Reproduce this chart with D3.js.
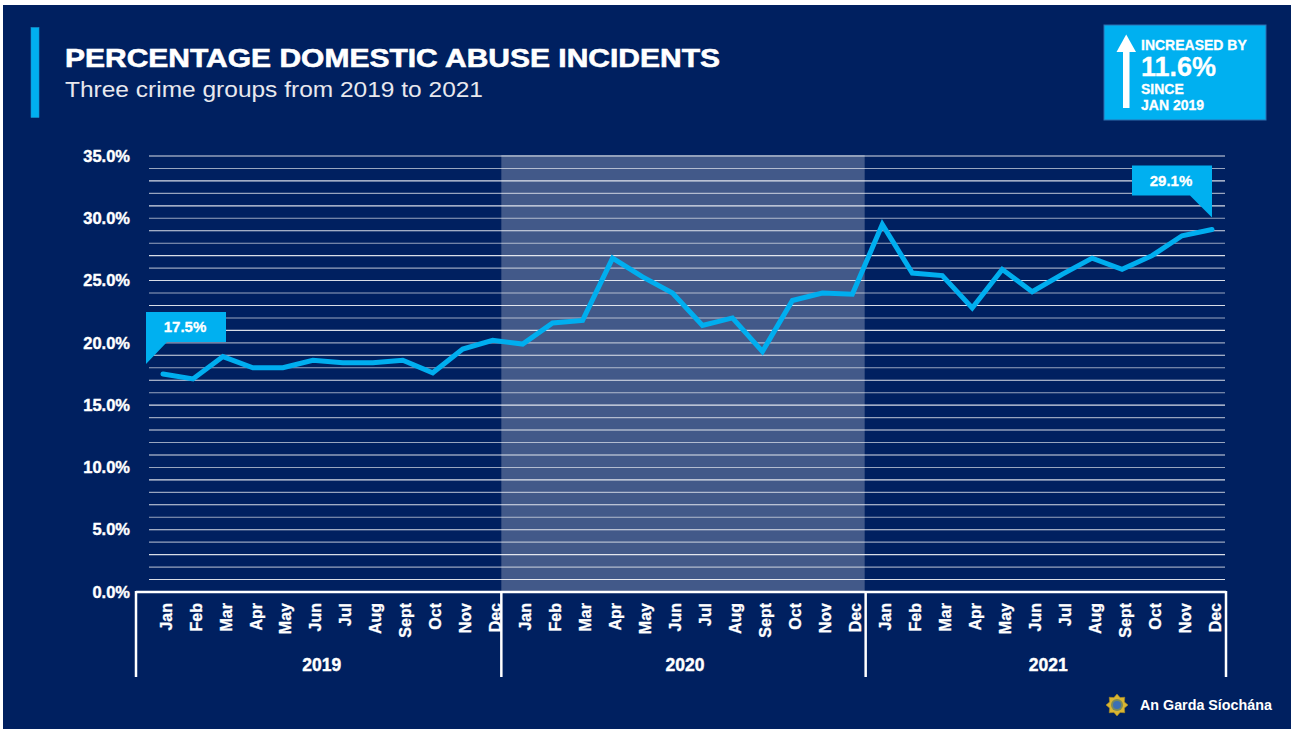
<!DOCTYPE html>
<html>
<head>
<meta charset="utf-8">
<script src="https://cdn.jsdelivr.net/npm/d3@7/dist/d3.min.js"></script>
<style>
  html, body { margin: 0; padding: 0; background: #ffffff; }
  svg { display: block; }
  text { font-family: "Liberation Sans", Arial, sans-serif; }
</style>
</head>
<body>
<svg id="chart" width="1295" height="729"></svg>
<script>
// ---------------- DATA ----------------
const years = ["2019", "2020", "2021"];
const months = ["Jan","Feb","Mar","Apr","May","Jun","Jul","Aug","Sept","Oct","Nov","Dec"];
const values2019 = [17.5, 17.1, 18.9, 18.0, 18.0, 18.6, 18.4, 18.4, 18.6, 17.6, 19.5, 20.2];
const values2020 = [19.9, 21.6, 21.8, 26.8, 25.3, 24.0, 21.4, 22.0, 19.3, 23.4, 24.0, 23.9];
const values2021 = [29.5, 25.6, 25.4, 22.8, 25.9, 24.1, 25.5, 26.8, 25.9, 27.0, 28.6, 29.1];
const yTicks = [0, 5, 10, 15, 20, 25, 30, 35];
const gridValues = d3.range(1, 36); // 1% gridlines
const titleText = "PERCENTAGE DOMESTIC ABUSE INCIDENTS";
const subtitleText = "Three crime groups from 2019 to 2021";
const badgeLines = ["INCREASED BY", "11.6%", "SINCE", "JAN 2019"];
const footerText = "An Garda Síochána";

const seriesValues = [values2019, values2020, values2021];
const data = [];
years.forEach((yr, yi) => {
  months.forEach((m, mi) => {
    data.push({ key: yr + "-" + m, year: yr, month: m, value: seriesValues[yi][mi] });
  });
});

// ---------------- STYLE ----------------
const navy = "#002060";
const cyan = "#00b0f0";
const lineBlue = "#00aeef";

const svg = d3.select("#chart");

// panel
svg.append("rect").attr("x", 3).attr("y", 5).attr("width", 1288).attr("height", 724).attr("fill", navy);

// title bar
svg.append("rect").attr("x", 31).attr("y", 27.5).attr("width", 8).attr("height", 90)
  .attr("fill", cyan).attr("stroke", "#1b8fc9").attr("stroke-width", 0.6);

svg.append("text").attr("x", 65).attr("y", 67)
  .attr("fill", "#ffffff").attr("font-size", 26).attr("font-weight", "bold")
  .attr("stroke", "#ffffff").attr("stroke-width", 0.6)
  .attr("textLength", 655).attr("lengthAdjust", "spacingAndGlyphs")
  .text(titleText);

svg.append("text").attr("x", 65).attr("y", 97)
  .attr("fill", "#e8e8ee").attr("font-size", 22)
  .attr("textLength", 418).attr("lengthAdjust", "spacingAndGlyphs")
  .text(subtitleText);

// ---------------- SCALES ----------------
const y = d3.scaleLinear().domain([0, 35]).range([592, 156]);
const x = d3.scalePoint().domain(data.map(d => d.key)).range([163, 1212]);
const yearBand = d3.scaleBand().domain(years).range([136, 1226]);

const plotLeft = 149, plotRight = 1225;

// shaded 2020 band
svg.append("rect")
  .attr("x", yearBand("2020") + 2).attr("y", y(35) - 1)
  .attr("width", yearBand.bandwidth()).attr("height", y(0) - y(35) + 1)
  .attr("fill", "#ffffff").attr("fill-opacity", 0.26);

// gridlines
svg.append("g").selectAll("line").data(gridValues).join("line")
  .attr("x1", plotLeft).attr("x2", plotRight)
  .attr("y1", d => y(d)).attr("y2", d => y(d))
  .attr("stroke", "#ffffff").attr("stroke-opacity", d => d % 2 ? 0.85 : 0.6).attr("stroke-width", 1.1);

// y axis labels
const yAxis = d3.axisLeft(y).tickValues(yTicks).tickSize(0).tickPadding(0)
  .tickFormat(d => d3.format(".1f")(d) + "%");
const gy = svg.append("g").attr("transform", "translate(130,0)").call(yAxis);
gy.select(".domain").remove();
gy.selectAll("text").attr("fill", "#ffffff").attr("font-size", 16.5).attr("font-weight", "bold")
  .attr("stroke", "#ffffff").attr("stroke-width", 0.4)
  .attr("font-family", "Liberation Sans, Arial, sans-serif");

// x axis frame
const frame = svg.append("g").attr("stroke", "#ffffff").attr("stroke-width", 2.5).attr("fill", "none");
frame.append("line").attr("x1", yearBand("2019")).attr("x2", yearBand("2021") + yearBand.bandwidth())
  .attr("y1", 592).attr("y2", 592);
const seps = years.map(yv => yearBand(yv)).concat([yearBand("2021") + yearBand.bandwidth()]);
frame.selectAll(".sep").data(seps).join("line").attr("class", "sep")
  .attr("x1", (d, i) => i === 1 ? d + 2 : (i === 2 ? d + 3 : d))
  .attr("x2", (d, i) => i === 1 ? d + 2 : (i === 2 ? d + 3 : d))
  .attr("y1", 591).attr("y2", 677);

// month labels
svg.append("g").selectAll("text").data(data).join("text")
  .attr("transform", d => `translate(${x(d.key) + 3},603) rotate(-90)`)
  .attr("text-anchor", "end").attr("dy", "0.35em")
  .attr("fill", "#ffffff").attr("font-size", 16).attr("font-weight", "bold")
  .attr("stroke", "#ffffff").attr("stroke-width", 0.3)
  .text(d => d.month);

// year labels
svg.append("g").selectAll("text").data(years).join("text")
  .attr("x", d => yearBand(d) + yearBand.bandwidth() / 2 + 4).attr("y", 671)
  .attr("text-anchor", "middle").attr("fill", "#ffffff")
  .attr("font-size", 17.5).attr("font-weight", "bold")
  .attr("stroke", "#ffffff").attr("stroke-width", 0.4)
  .text(d => d);

// line
const line = d3.line().x(d => x(d.key)).y(d => y(d.value));
svg.append("path").datum(data)
  .attr("d", line).attr("fill", "none")
  .attr("stroke", lineBlue).attr("stroke-width", 5)
  .attr("stroke-linejoin", "miter").attr("stroke-linecap", "round");

// callouts
const first = data[0], last = data[data.length - 1];
function callout(d, side) {
  const px = x(d.key);
  const w = 80, h = 30;
  let bx, by, pts;
  if (side === "left") {
    bx = px - 17; by = y(d.value) - 62;
    pts = [[bx, by], [bx + w, by], [bx + w, by + h], [bx + 21, by + h], [bx, by + h + 22]];
  } else {
    bx = px - w; by = y(d.value) - 64;
    pts = [[bx, by], [bx + w, by], [bx + w, by + h + 22], [bx + w - 22, by + h], [bx, by + h]];
  }
  svg.append("path").attr("d", d3.line()(pts) + "Z").attr("fill", cyan);
  svg.append("text").attr("x", bx + w / 2 - 1).attr("y", by + h / 2).attr("dy", "0.35em")
    .attr("text-anchor", "middle").attr("fill", "#ffffff")
    .attr("font-size", 15).attr("font-weight", "bold")
    .attr("stroke", "#ffffff").attr("stroke-width", 0.3)
    .text(d3.format(".1f")(d.value) + "%");
}
callout(first, "left");
callout(last, "right");

// top-right badge
const bg = svg.append("g");
bg.append("rect").attr("x", 1104).attr("y", 25).attr("width", 162).attr("height", 95)
  .attr("fill", cyan).attr("stroke", "#2f6fb0").attr("stroke-width", 1);
bg.append("rect").attr("x", 1123).attr("y", 50).attr("width", 6.5).attr("height", 58).attr("fill", "#ffffff");
bg.append("path").attr("d", d3.line()([[1116.5, 52], [1126.2, 34.5], [1136, 52]]) + "Z").attr("fill", "#ffffff");
const bt = [
  { t: badgeLines[0], y: 49.5, s: 14 },
  { t: badgeLines[1], y: 76, s: 27 },
  { t: badgeLines[2], y: 94, s: 14 },
  { t: badgeLines[3], y: 110, s: 14 }
];
bg.selectAll("text.b").data(bt).join("text").attr("class", "b")
  .attr("x", 1141).attr("y", d => d.y)
  .attr("fill", "#ffffff").attr("font-size", d => d.s).attr("font-weight", "bold")
  .attr("stroke", "#ffffff").attr("stroke-width", 0.3)
  .text(d => d.t);

// footer logo
const lg = svg.append("g").attr("transform", "translate(1117,705)");
const starPts = d3.range(16).map(i => {
  const a = i * Math.PI / 8 - Math.PI / 2;
  const r = i % 2 ? 8 : 11;
  return [r * Math.cos(a), r * Math.sin(a)];
});
lg.append("path").attr("d", d3.line()(starPts) + "Z").attr("fill", "#d9b532").attr("stroke", "#a88a20").attr("stroke-width", 0.6);
lg.append("circle").attr("r", 6).attr("fill", "#7a8a5a");
lg.append("circle").attr("r", 4).attr("fill", "#3c6fb4");
svg.append("text").attr("x", 1140).attr("y", 705).attr("dy", "0.35em")
  .attr("fill", "#ffffff").attr("font-size", 14.3).attr("font-weight", "bold")
  .text(footerText);
</script>
</body>
</html>
